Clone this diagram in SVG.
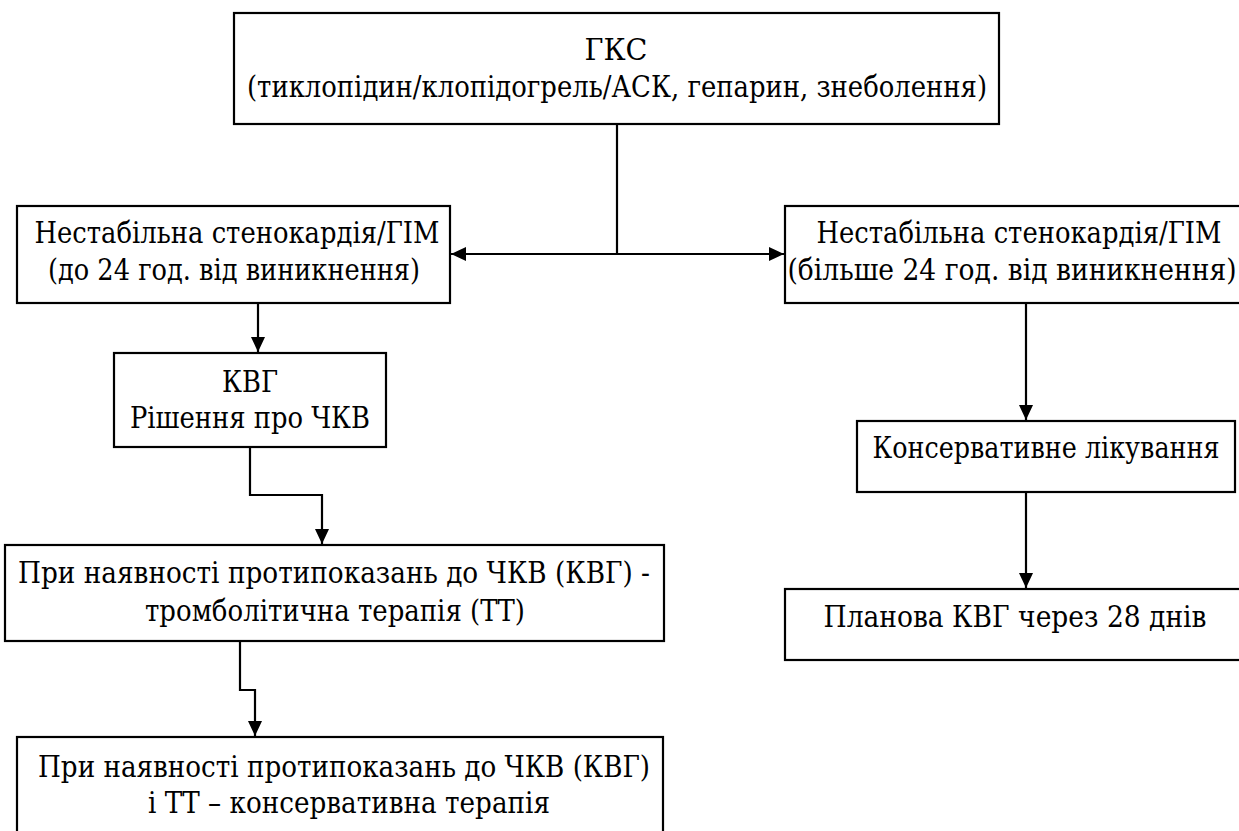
<svg xmlns="http://www.w3.org/2000/svg" width="1239" height="831" viewBox="0 0 1239 831">
<defs>
<style>
.box{fill:#fff;stroke:#000;stroke-width:2.2}
.t{font-family:'DejaVu Serif','Liberation Serif','Times New Roman',serif;font-size:29px;fill:#000;text-anchor:middle}
.c{fill:none;stroke:#000;stroke-width:2.2}
</style>
<marker id="ah" markerUnits="userSpaceOnUse" markerWidth="16" markerHeight="16" viewBox="0 0 16 14" refX="15" refY="7" orient="auto">
<path d="M0,0 L15,7 L0,14 z" fill="#000"/>
</marker>
</defs>
<rect width="1239" height="831" fill="#fff"/>
<g id="n-gks">
<rect class="box" x="234" y="13" width="765" height="111"/>
<text class="t" x="616" y="60" textLength="63" lengthAdjust="spacingAndGlyphs">ГКС</text>
<text class="t" x="617" y="97" textLength="740" lengthAdjust="spacingAndGlyphs">(тиклопідин/клопідогрель/АСК, гепарин, знеболення)</text>
</g>
<g id="n-left">
<rect class="box" x="17" y="206" width="433" height="97"/>
<text class="t" x="237" y="243" textLength="405" lengthAdjust="spacingAndGlyphs">Нестабільна стенокардія/ГІМ</text>
<text class="t" x="234" y="280" textLength="372" lengthAdjust="spacingAndGlyphs">(до 24 год. від виникнення)</text>
</g>
<g id="n-right">
<rect class="box" x="785" y="206" width="462" height="97"/>
<text class="t" x="1019" y="243" textLength="405" lengthAdjust="spacingAndGlyphs">Нестабільна стенокардія/ГІМ</text>
<text class="t" x="1012" y="280" textLength="449" lengthAdjust="spacingAndGlyphs">(більше 24 год. від виникнення)</text>
</g>
<g id="n-kvg">
<rect class="box" x="114" y="353" width="272" height="94"/>
<text class="t" x="250" y="392" textLength="56" lengthAdjust="spacingAndGlyphs">КВГ</text>
<text class="t" x="250" y="428" textLength="240" lengthAdjust="spacingAndGlyphs">Рішення про ЧКВ</text>
</g>
<g id="n-tt">
<rect class="box" x="5" y="545" width="659" height="96"/>
<text class="t" x="334" y="583" textLength="632" lengthAdjust="spacingAndGlyphs">При наявності протипоказань до ЧКВ (КВГ) -</text>
<text class="t" x="335" y="621" textLength="380" lengthAdjust="spacingAndGlyphs">тромболітична терапія (ТТ)</text>
</g>
<g id="n-cons-ther">
<rect class="box" x="17" y="737" width="646" height="110"/>
<text class="t" x="344" y="777" textLength="612" lengthAdjust="spacingAndGlyphs">При наявності протипоказань до ЧКВ (КВГ)</text>
<text class="t" x="349" y="813" textLength="402" lengthAdjust="spacingAndGlyphs">і ТТ – консервативна терапія</text>
</g>
<g id="n-cons">
<rect class="box" x="857" y="421" width="378" height="71"/>
<text class="t" x="1046" y="458" textLength="347" lengthAdjust="spacingAndGlyphs">Консервативне лікування</text>
</g>
<g id="n-plan">
<rect class="box" x="785" y="589" width="462" height="71"/>
<text class="t" x="1015" y="627" textLength="383" lengthAdjust="spacingAndGlyphs">Планова КВГ через 28 днів</text>
</g>
<g id="connectors">
<path class="c" d="M617,124 V254"/>
<path class="c" d="M617,254 H451" marker-end="url(#ah)"/>
<path class="c" d="M617,254 H784" marker-end="url(#ah)"/>
<path class="c" d="M258,303 V352" marker-end="url(#ah)"/>
<path class="c" d="M250,447 V495 H322 V544" marker-end="url(#ah)"/>
<path class="c" d="M240,641 V690 H255 V736" marker-end="url(#ah)"/>
<path class="c" d="M1026,303 V420" marker-end="url(#ah)"/>
<path class="c" d="M1026,492 V588" marker-end="url(#ah)"/>
</g>
</svg>
